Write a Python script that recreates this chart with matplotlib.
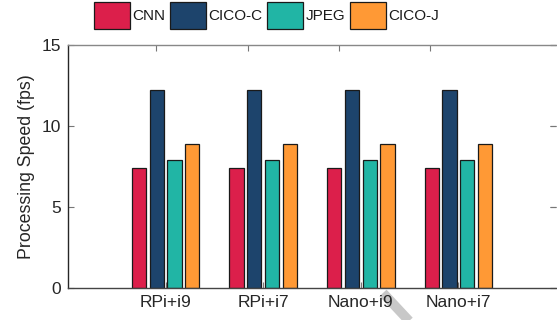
import numpy as np
import matplotlib
matplotlib.use("Agg")
import matplotlib.pyplot as plt
from matplotlib.lines import Line2D

plt.rcParams["font.family"] = ["Liberation Sans", "DejaVu Sans"]

# === data ===
groups = ["RPi+i9", "RPi+i7", "Nano+i9", "Nano+i7"]
methods = ["CNN", "CICO-C", "JPEG", "CICO-J"]
cnn = [7.4, 7.4, 7.4, 7.4]
cico_c = [12.2, 12.2, 12.2, 12.2]
jpeg = [7.9, 7.9, 7.9, 7.9]
cico_j = [8.85, 8.85, 8.85, 8.85]
y_ticks = [0, 5, 10, 15]

colors = ["#DC1F4B", "#1D446C", "#21B5A5", "#FF9935"]
series = [cnn, cico_c, jpeg, cico_j]

# === figure ===
fig = plt.figure(figsize=(5.57, 3.2), dpi=100)
ax = fig.add_axes([68 / 557, 32.3 / 320, 488 / 557, 243 / 320])

x = np.arange(1, len(groups) + 1)
bar_w = 0.145
pitch = 0.182
for i, (vals, c, name) in enumerate(zip(series, colors, methods)):
    off = (i - 1.5) * pitch
    ax.bar(x + off, vals, width=bar_w, color=c, edgecolor="#1a1a1a",
           linewidth=0.9, label=name, zorder=2)

ax.set_xlim(0, 5)
ax.set_ylim(0, 15)
ax.set_xticks(x)
ax.set_xticklabels(groups)
ax.set_yticks(y_ticks)
ax.set_ylabel("Processing Speed (fps)", fontsize=12.8, color="#262626", labelpad=5)

ax.tick_params(axis="both", direction="in", length=4, width=0.8,
               color="#777777", labelsize=12.5, labelcolor="#262626")
ax.tick_params(axis="y", right=True, pad=5)
ax.tick_params(axis="x", pad=5)

ax.spines["left"].set_color("#262626")
ax.spines["bottom"].set_color("#444444")
ax.spines["top"].set_color("#888888")
ax.spines["right"].set_visible(False)
for s in ["left", "bottom", "top"]:
    ax.spines[s].set_linewidth(1.0)

# ticks along the top edge
top = ax.secondary_xaxis("top")
top.set_xticks([0.9, 1.843, 2.778, 3.713])
top.set_xticklabels([])
top.tick_params(direction="in", length=4, width=0.8, color="#777777")
top.spines["top"].set_visible(False)

# right edge ticks (the box edge sits at the figure border)
right = ax.secondary_yaxis("right")
right.set_yticks(y_ticks)
right.set_yticklabels([])
right.tick_params(direction="in", length=4, width=0.8, color="#777777")
right.spines["right"].set_visible(False)

# === legend ===
leg = fig.legend(loc="upper center", bbox_to_anchor=(0.478, 1.0), ncol=4,
                 frameon=False, fontsize=11, handlelength=2.37,
                 handleheight=2.42, handletextpad=0.15, columnspacing=0.3,
                 borderaxespad=0, borderpad=0.1)
for t in leg.get_texts():
    t.set_color("#1a1a1a")

# grey stroke near the bottom labels
fig.add_artist(Line2D([383 / 557, 411 / 557], [27 / 320, -3 / 320],
                      transform=fig.transFigure, color="#c8c8c8",
                      linewidth=7, solid_capstyle="butt", zorder=0))

fig.savefig("out.png", dpi=100)
